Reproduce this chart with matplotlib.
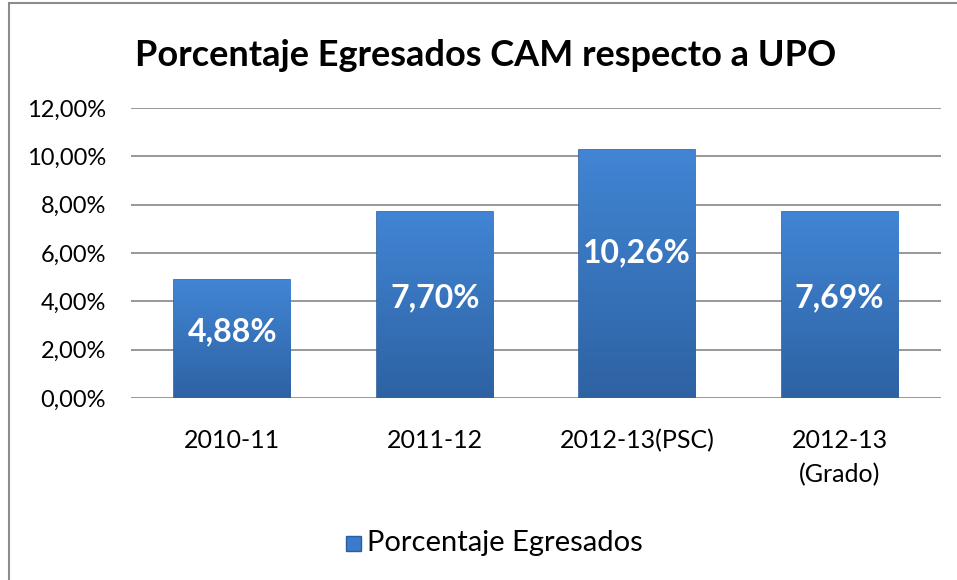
import matplotlib.pyplot as plt
from matplotlib.patches import Rectangle
from matplotlib.colors import LinearSegmentedColormap
import numpy as np

categories = ["2010-11", "2011-12", "2012-13(PSC)", "2012-13\n(Grado)"]
values = [4.88, 7.70, 10.26, 7.69]
value_labels = ["4,88%", "7,70%", "10,26%", "7,69%"]
tick_vals = [0, 2, 4, 6, 8, 10, 12]
tick_labels = ["0,00%", "2,00%", "4,00%", "6,00%", "8,00%", "10,00%", "12,00%"]

plt.rcParams['font.family'] = ['Lato', 'DejaVu Sans']

fig = plt.figure(figsize=(9.57, 5.8), dpi=100)
ax = fig.add_axes([131/957, 1-398/580, 810/957, 290/580])

x = np.arange(len(categories))
bars = ax.bar(x, values, width=0.575, color="#3b7bc9", edgecolor="#2b5e9e", linewidth=1.2, zorder=3)

# vertical gradient on the bars
cmap = LinearSegmentedColormap.from_list("g", ["#2e62a3", "#4185d4"])
grad = np.linspace(0, 1, 256).reshape(-1, 1)
for b in bars:
    bx, by = b.get_x(), b.get_y()
    w, h = b.get_width(), b.get_height()
    im = ax.imshow(grad, extent=[bx, bx+w, by, by+h], aspect='auto',
                   cmap=cmap, origin='lower', zorder=3.5)
    im.set_clip_path(b)

# labels sit a little above centre, the tall one clearly lower than its top
for xi, v, lab in zip(x, values, value_labels):
    ly = min(v/2 + 0.3, 6.0) if v < 9 else 6.0
    ax.text(xi, ly, lab, ha='center', va='center', color='white',
            fontsize=23, fontweight='bold', zorder=5)

ax.set_xlim(-0.5, len(categories)-0.5)
ax.set_ylim(0, 12)
ax.set_yticks(tick_vals)
ax.set_yticklabels(tick_labels, fontsize=17)
ax.set_xticks(x)
ax.set_xticklabels(categories, fontsize=18, va='top', linespacing=1.6)
ax.tick_params(axis='both', length=0)
ax.tick_params(axis='y', pad=18)
ax.tick_params(axis='x', pad=22)
ax.grid(axis='y', color='#868686', linewidth=1.2, zorder=0)
for s in ax.spines.values():
    s.set_visible(False)

fig.text(0.507, 0.905, "Porcentaje Egresados CAM respecto a UPO", ha='center', va='center',
         fontsize=26, fontweight='bold')

# legend
fig.patches.append(Rectangle((346/957, 1-551/580), 15/957, 15/580, transform=fig.transFigure,
                             facecolor="#3b7bc9", edgecolor="#2b5e9e", linewidth=1))
fig.text(367/957, 1-543/580, "Porcentaje Egresados", ha='left', va='center', fontsize=21)

# outer border
fig.patches.append(Rectangle((9/957, -0.01), 1.0, 1-3/580+0.01, transform=fig.transFigure,
                             fill=False, edgecolor='#8c8c8c', linewidth=1.5))

fig.savefig("out.png", dpi=100)
